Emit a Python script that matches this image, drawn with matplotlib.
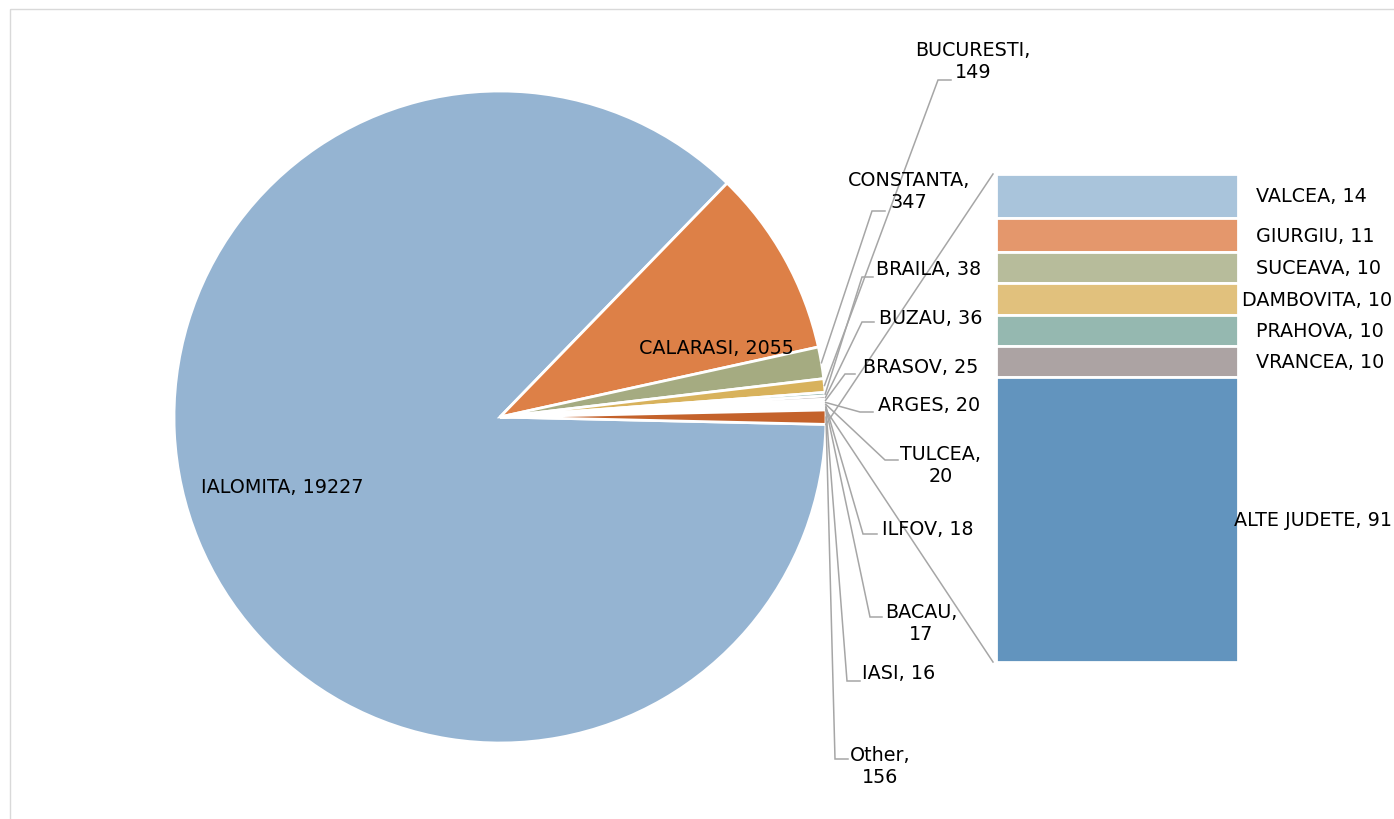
import matplotlib.pyplot as plt
import matplotlib.transforms as mtransforms
from matplotlib.patches import Rectangle
import numpy as np

# pie data (judet, value)
pie_names = ["IALOMITA", "CALARASI", "CONSTANTA", "BUCURESTI", "BRAILA", "BUZAU",
             "BRASOV", "ARGES", "TULCEA", "ILFOV", "BACAU", "IASI", "Other"]
pie_values = [19227, 2055, 347, 149, 38, 36, 25, 20, 20, 18, 17, 16, 156]
pie_colors = ["#95B4D2", "#DD8047", "#A5AB81", "#D8B25C", "#7BA79D", "#968C8C",
              "#5F8CB3", "#B8642E", "#7F8560", "#B58B37", "#56877C", "#736868", "#C4622B"]

# breakdown of "Other" shown in the bar
bar_names = ["VALCEA", "GIURGIU", "SUCEAVA", "DAMBOVITA", "PRAHOVA", "VRANCEA", "ALTE JUDETE"]
bar_values = [14, 11, 10, 10, 10, 10, 91]
bar_colors = ["#A9C4DB", "#E4976C", "#B7BC9B", "#E1C17D", "#95B8B0", "#ACA3A3", "#6294BE"]

FONT = "DejaVu Sans"
FS = 13.8
LINE = "#A6A6A6"

fig = plt.figure(figsize=(13.94, 8.2), dpi=100)
ax = fig.add_axes([0, 0, 1, 1])

wedges, _ = ax.pie(pie_values, colors=pie_colors, startangle=1.3, counterclock=True,
                   center=(500, 418), radius=326, frame=True,
                   wedgeprops=dict(edgecolor="white", linewidth=2))
ax.set_xlim(0, 1394)
ax.set_ylim(820, 0)
ax.set_aspect("equal")
ax.set_axis_off()

# chart border
ax.add_patch(Rectangle((10, 10), 1500, 900, fill=False, edgecolor="#D9D9D9", lw=1))

# labels inside the two big slices
ax.text(282, 488, f"{pie_names[0]}, {pie_values[0]}", ha="center", va="center",
        fontsize=FS, family=FONT)
ax.text(716, 349, f"{pie_names[1]}, {pie_values[1]}", ha="center", va="center",
        fontsize=FS, family=FONT)

# outside labels: text centre, elbow of leader, end of leader, two lines?
outside = {
    "CONSTANTA": ((909, 191), (872, 212), (885, 212), True),
    "BUCURESTI": ((973, 61), (938, 81), (951, 81), True),
    "BRAILA": ((929, 270), (862, 278), (873, 278), False),
    "BUZAU": ((931, 319), (862, 323), (874, 323), False),
    "BRASOV": ((921, 368), (845, 375), (855, 375), False),
    "ARGES": ((929, 406), (860, 413), (873, 413), False),
    "TULCEA": ((941, 466), (885, 461), (898, 461), True),
    "ILFOV": ((928, 530), (863, 535), (877, 535), False),
    "BACAU": ((921, 624), (870, 618), (882, 618), True),
    "IASI": ((899, 674), (847, 682), (860, 682), False),
    "Other": ((880, 767), (835, 760), (848, 760), True),
}

for name, val, w in zip(pie_names, pie_values, wedges):
    if name not in outside:
        continue
    (tx, ty), (ex, ey), (hx, hy), two = outside[name]
    mid = np.deg2rad((w.theta1 + w.theta2) / 2)
    px = w.center[0] + w.r * np.cos(mid)
    py = w.center[1] + w.r * np.sin(mid)
    ax.plot([px, ex, hx], [py, ey, hy], color=LINE, lw=1.1, solid_joinstyle="miter")
    sep = "\n" if two else " "
    ax.text(tx, ty, f"{name},{sep}{val}", ha="center", va="center", fontsize=FS,
            family=FONT, multialignment="center", linespacing=1.2)

# bar of "Other"
bx0, bx1, by0, by1 = 996, 1238, 175, 663
bax = fig.add_axes([bx0 / 1394, 1 - by1 / 820, (bx1 - bx0) / 1394, (by1 - by0) / 820])
bottoms = np.concatenate([[0], np.cumsum(bar_values)[:-1]])
bax.bar(0, bar_values, bottom=bottoms, width=1, color=bar_colors,
        edgecolor="white", linewidth=2)
bax.set_xlim(-0.5, 0.5)
bax.set_ylim(sum(bar_values), 0)
bax.set_axis_off()

tr = mtransforms.blended_transform_factory(bax.transAxes, bax.transData)
for name, val, b in zip(bar_names, bar_values, bottoms):
    label = f"{name}, {val}"
    if name in ("DAMBOVITA", "ALTE JUDETE"):
        # too wide: pushed against the right edge of the chart
        bax.text(1.635, b + val / 2, label, transform=tr, ha="right", va="center",
                 fontsize=FS, family=FONT)
    else:
        bax.text(1.074, b + val / 2, label, transform=tr, ha="left", va="center",
                 fontsize=FS, family=FONT)

# connectors from the composite slice to the bar
other = wedges[-1]
for ang, yb in ((other.theta2, by0), (other.theta1, by1)):
    a = np.deg2rad(ang)
    ax.plot([other.center[0] + other.r * np.cos(a), bx0 - 3],
            [other.center[1] + other.r * np.sin(a), yb], color=LINE, lw=1.1)

fig.savefig("out.png", dpi=100)
